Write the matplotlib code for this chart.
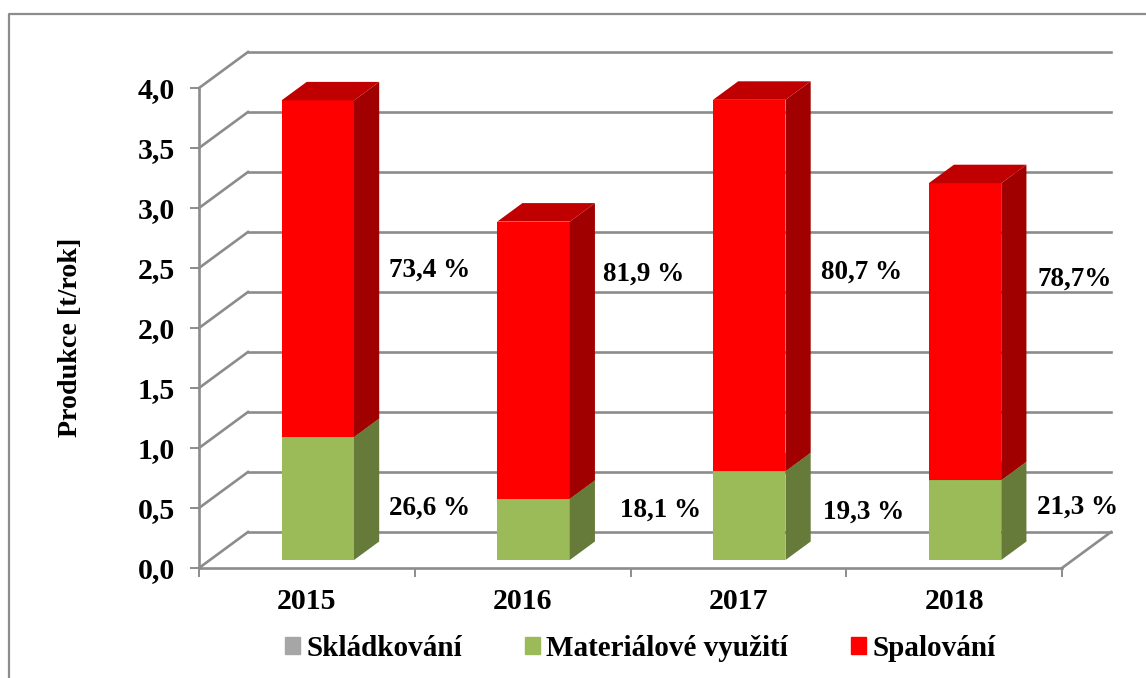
import matplotlib
matplotlib.use("Agg")
import matplotlib.pyplot as plt
from matplotlib.patches import Patch, Polygon, Rectangle
from matplotlib.transforms import Affine2D

years = ["2015", "2016", "2017", "2018"]
material = [1.025, 0.51, 0.74, 0.665]
incineration = [2.805, 2.31, 3.095, 2.475]
material_pct = ["26,6 %", "18,1 %", "19,3 %", "21,3 %"]
incineration_pct = ["73,4 %", "81,9 %", "80,7 %", "78,7%"]
y_ticks = [0.0, 0.5, 1.0, 1.5, 2.0, 2.5, 3.0, 3.5, 4.0]
legend_names = ["Skládkování", "Materiálové využití", "Spalování"]

# label anchors in axis units
material_pct_x = [1.07, 2.14, 3.08, 4.07]
material_pct_y = [0.495, 0.485, 0.465, 0.51]
incineration_pct_x = [1.07, 2.06, 3.07, 4.06]
incineration_pct_y = [2.485, 2.445, 2.465, 2.405]

GRID = "#8c8c8c"
DEPTH_X, DEPTH_Y = 49, 36  # pixels, floor depth
BAR_NEAR, BAR_FAR = 0.222, 0.736
BAR_WIDTH = 0.336

plt.rcParams["font.family"] = ["Liberation Serif", "DejaVu Serif"]
plt.rcParams["font.weight"] = "bold"

fig = plt.figure(figsize=(11.46, 6.78), dpi=100)
ax = fig.add_axes([199 / 1146, 1 - 568 / 678, 863 / 1146, 480 / 678])
ax.set_xlim(0, 4)
ax.set_ylim(0, 4)


def depth(z):
    return ax.transData + Affine2D().translate(DEPTH_X * z, DEPTH_Y * z)


def draw_block(center, bottom, height, front, top, side):
    left = center - BAR_WIDTH / 2
    right = center + BAR_WIDTH / 2
    upper = bottom + height
    dx = (BAR_FAR - BAR_NEAR) * DEPTH_X * 4 / 863
    dy = (BAR_FAR - BAR_NEAR) * DEPTH_Y * 4 / 480
    tr = depth(BAR_NEAR)
    ax.add_patch(Rectangle((left, bottom), BAR_WIDTH, height, fc=front, ec="none", transform=tr, zorder=3, clip_on=False))
    ax.add_patch(Polygon([(right, bottom), (right + dx, bottom + dy), (right + dx, upper + dy), (right, upper)],
                         fc=side, ec="none", transform=tr, zorder=3, clip_on=False))
    ax.add_patch(Polygon([(left, upper), (left + dx, upper + dy), (right + dx, upper + dy), (right, upper)],
                         fc=top, ec="none", transform=tr, zorder=3, clip_on=False))


# walls
for val in y_ticks:
    ax.plot([0, 4], [val, val], color=GRID, lw=1.9, transform=depth(1), zorder=1, clip_on=False)
    x_end = ax.transData.inverted().transform(ax.transData.transform((0, val)) + (DEPTH_X, DEPTH_Y))
    ax.plot([0, x_end[0]], [val, x_end[1]], color=GRID, lw=1.9, zorder=1, clip_on=False)
x_end = ax.transData.inverted().transform(ax.transData.transform((4, 0)) + (DEPTH_X, DEPTH_Y))
ax.plot([4, x_end[0]], [0, x_end[1]], color=GRID, lw=1.9, zorder=1, clip_on=False)

for i, year in enumerate(years):
    draw_block(i + 0.5, 0, material[i], "#9bbb59", "#7d9a45", "#667a3a")
    draw_block(i + 0.5, material[i], incineration[i], "#ff0000", "#c00000", "#a00000")
    ax.text(material_pct_x[i], material_pct_y[i], material_pct[i], fontsize=19.5, ha="center", va="center", zorder=4)
    ax.text(incineration_pct_x[i], incineration_pct_y[i], incineration_pct[i], fontsize=19.5, ha="center", va="center", zorder=4)

for s in ["top", "right"]:
    ax.spines[s].set_visible(False)
for s in ["left", "bottom"]:
    ax.spines[s].set_color(GRID)
    ax.spines[s].set_linewidth(1.9)
    ax.spines[s].set_zorder(2)
ax.patch.set_visible(False)

ax.set_yticks(y_ticks)
ax.set_yticklabels([f"{v:.1f}".replace(".", ",") for v in y_ticks], fontsize=21.5)
ax.set_xticks([0, 1, 2, 3, 4])
ax.set_xticklabels([])
ax.set_xticks([0.5, 1.5, 2.5, 3.5], labels=years, minor=True, fontsize=21.5)
ax.tick_params(axis="x", which="major", color=GRID, width=1.4, length=6.5)
ax.tick_params(axis="x", which="minor", length=0, pad=14.5)
ax.tick_params(axis="y", color=GRID, width=1.4, length=6.5, pad=11)
ax.set_ylabel("Produkce [t/rok]", fontsize=20.2, fontweight="bold")
ax.yaxis.set_label_coords(-0.134, 0.48)

handles = [Patch(color=c) for c in ["#a6a6a6", "#9bbb59", "#ff0000"]]
fig.legend(handles, legend_names, ncol=3, frameon=False, fontsize=21, loc="center",
           bbox_to_anchor=(640 / 1146, 1 - 648.5 / 678), handlelength=0.52, handleheight=0.52,
           handletextpad=0.22, columnspacing=2.15)

# chart frame, only left and top are in the picture
fig.add_artist(plt.Line2D([8.5 / 1146, 8.5 / 1146, 1], [0, 1 - 14 / 678, 1 - 14 / 678],
                          color="#8c8c8c", lw=1.6))

fig.savefig("out.png", dpi=100)
